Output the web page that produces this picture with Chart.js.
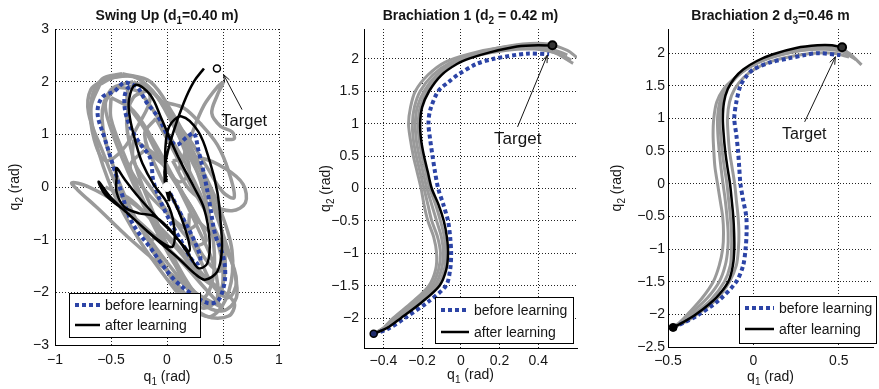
<!DOCTYPE html>
<html>
<head>
<meta charset="utf-8">
<script src="https://cdn.jsdelivr.net/npm/chart.js@4.4.1/dist/chart.umd.min.js"></script>
<style>
  html, body { margin: 0; padding: 0; background: #fff; }
  body { position: relative; width: 879px; height: 389px; overflow: hidden; }
  canvas { position: absolute; top: 0; }
</style>
</head>
<body>
<canvas id="swing" width="290" height="389" style="left:0px"></canvas>
<canvas id="brach1" width="300" height="389" style="left:290px"></canvas>
<canvas id="brach2" width="289" height="389" style="left:590px"></canvas>
<script>
// ---- tick labels ----
const swingXTicks = [-1, -0.5, 0, 0.5, 1];
const swingYTicks = [-3, -2, -1, 0, 1, 2, 3];
const brach1XTicks = [-0.4, -0.2, 0, 0.2, 0.4];
const brach1YTicks = [-2, -1.5, -1, -0.5, 0, 0.5, 1, 1.5, 2];
const brach2XTicks = [-0.5, 0, 0.5];
const brach2YTicks = [-2.5, -2, -1.5, -1, -0.5, 0, 0.5, 1, 1.5, 2];

// ---- Swing up: [q1, q2] (rad) ----
const swingGray1 = [[-0.4,2.15],[-0.15,2.0],[0.05,1.4],[0.25,0.6],[0.45,-0.3],[0.58,-1.2],[0.55,-2.0],[0.4,-2.45],[0.22,-2.3],[0.0,-1.75],[-0.25,-1.0],[-0.48,-0.1],[-0.64,0.9],[-0.68,1.6],[-0.58,2.05],[-0.4,2.15]];
const swingGray2 = [[-0.3,2.0],[-0.1,1.75],[0.08,1.2],[0.28,0.4],[0.45,-0.5],[0.52,-1.4],[0.46,-2.1],[0.32,-2.3],[0.15,-2.0],[-0.05,-1.4],[-0.28,-0.6],[-0.48,0.4],[-0.58,1.3],[-0.5,1.85],[-0.3,2.0]];
const swingGray3 = [[0.5,-2.3],[0.25,-2.0],[-0.05,-1.5],[-0.35,-0.95],[-0.62,-0.4],[-0.8,-0.05],[-0.85,0.08],[-0.72,0.02],[-0.45,-0.3],[-0.15,-0.85],[0.12,-1.4],[0.35,-1.95],[0.5,-2.3]];
const swingGray4 = [[0.05,0.5],[0.3,0.55],[0.52,0.35],[0.68,0.05],[0.7,-0.3],[0.58,-0.45],[0.4,-0.35],[0.2,-0.05],[0.05,0.5]];
const swingGray5 = [[-0.15,1.85],[0.0,1.5],[0.15,0.9],[0.3,0.1],[0.4,-0.8],[0.42,-1.6],[0.33,-2.1],[0.18,-1.9],[0.04,-1.3],[-0.12,-0.5],[-0.28,0.4],[-0.36,1.2],[-0.3,1.7],[-0.15,1.85]];
const swingGray6 = [[0.1,0.3],[0.22,1.0],[0.33,1.55],[0.45,1.9],[0.5,1.98],[0.45,1.75],[0.4,1.4],[0.48,1.15],[0.58,1.05],[0.6,0.92],[0.52,0.9]];
const swingGray7 = [[-0.5,1.7],[-0.3,1.45],[-0.1,0.8],[0.1,0.0],[0.28,-0.8],[0.42,-1.5],[0.45,-2.1],[0.35,-2.25],[0.18,-1.8],[0.0,-1.1],[-0.2,-0.3],[-0.38,0.6],[-0.5,1.3],[-0.5,1.7]];
const swingGray8 = [[-0.2,0.7],[0.0,0.35],[0.15,-0.15],[0.27,-0.65],[0.18,-0.8],[-0.02,-0.45],[-0.22,0.0],[-0.33,0.4],[-0.2,0.7]];
const swingGray9 = [[-0.1,1.3],[0.08,0.6],[0.22,0.0],[0.38,-0.6],[0.5,-1.2],[0.47,-1.6],[0.32,-1.3],[0.12,-0.5],[-0.08,0.3],[-0.2,1.0],[-0.1,1.3]];
const swingGray10 = [[-0.6,1.95],[-0.45,2.1],[-0.25,2.05],[-0.15,1.7],[-0.25,1.2],[-0.4,0.7],[-0.55,0.5],[-0.65,0.9],[-0.68,1.5],[-0.6,1.95]];
const swingGray11 = [[0.0,-1.2],[0.2,-1.5],[0.45,-1.9],[0.6,-2.2],[0.55,-2.45],[0.35,-2.45],[0.15,-2.1],[0.0,-1.6],[-0.15,-1.1],[-0.05,-0.9],[0.0,-1.2]];
const swingGray12 = [[-0.55,0.0],[-0.35,-0.2],[-0.15,-0.6],[0.1,-1.2],[0.3,-1.7],[0.4,-1.85],[0.25,-1.5],[0.0,-0.9],[-0.25,-0.4],[-0.5,-0.05]];
const swingGray13 = [[0.0,1.6],[0.15,1.5],[0.3,1.2],[0.45,0.8],[0.55,0.3],[0.6,-0.2],[0.5,-0.1],[0.35,0.4],[0.2,0.9],[0.05,1.3]];
const swingGray14 = [[-0.35,1.9],[-0.2,1.95],[-0.05,1.6],[0.1,1.0],[0.2,0.3],[0.1,0.1],[-0.05,0.5],[-0.2,1.1],[-0.35,1.6],[-0.35,1.9]];
const swingGray15 = [[-0.55,2.05],[-0.3,2.1],[-0.12,1.8],[0.05,1.2],[0.22,0.5],[0.38,-0.2],[0.5,-0.9],[0.6,-1.6],[0.62,-2.1],[0.5,-2.35],[0.3,-2.2],[0.1,-1.7],[-0.15,-1.0],[-0.4,-0.2],[-0.58,0.7],[-0.7,1.4],[-0.68,1.85],[-0.55,2.05]];
const swingGray16 = [[-0.45,1.9],[-0.25,1.8],[-0.05,1.2],[0.15,0.5],[0.33,-0.3],[0.46,-1.1],[0.5,-1.8],[0.42,-2.2],[0.25,-2.0],[0.05,-1.4],[-0.15,-0.6],[-0.35,0.3],[-0.5,1.1],[-0.55,1.6],[-0.45,1.9]];
const swingGray17 = [[0.2,-0.5],[0.4,-0.9],[0.55,-1.3],[0.62,-1.8],[0.55,-2.1],[0.42,-1.9],[0.3,-1.4],[0.2,-0.9],[0.2,-0.5]];
const swingGray18 = [[-0.3,0.9],[-0.1,0.6],[0.1,0.0],[0.25,-0.5],[0.35,-1.0],[0.25,-1.1],[0.05,-0.6],[-0.15,0.0],[-0.3,0.5],[-0.3,0.9]];
const swingBefore = [[0.0,0.0],[0.12,-0.5],[0.25,-1.05],[0.3,-1.4],[0.25,-1.45],[0.12,-1.0],[-0.02,-0.45],[-0.12,0.1],[-0.15,0.55],[-0.25,0.85],[-0.34,1.2],[-0.38,1.55],[-0.36,1.85],[-0.28,1.92],[-0.18,1.6],[-0.07,1.3],[0.0,1.0],[0.08,0.8],[0.18,0.95],[0.24,1.02],[0.28,0.7],[0.33,0.25],[0.38,-0.3],[0.43,-0.9],[0.5,-1.3],[0.52,-1.65],[0.5,-1.95],[0.45,-2.17],[0.36,-2.2],[0.2,-2.0],[0.06,-1.75],[-0.05,-1.45],[-0.15,-1.15],[-0.26,-0.85],[-0.34,-0.55],[-0.4,-0.15],[-0.48,0.4],[-0.56,0.95],[-0.62,1.4],[-0.58,1.7],[-0.47,1.82],[-0.38,1.98],[-0.28,1.92]];
const swingAfter = [[0.0,0.0],[0.06,-0.25],[0.13,-0.6],[0.19,-1.0],[0.2,-1.22],[0.12,-1.05],[0.0,-0.75],[-0.12,-0.55],[-0.25,-0.5],[-0.38,-0.38],[-0.45,-0.1],[-0.45,0.2],[-0.45,0.36],[-0.38,0.15],[-0.25,-0.2],[-0.08,-0.6],[0.08,-0.95],[0.2,-1.3],[0.28,-1.54],[0.36,-1.45],[0.38,-1.0],[0.33,-0.4],[0.24,0.0],[0.14,0.4],[0.05,0.8],[-0.05,1.3],[-0.15,1.75],[-0.28,1.94],[-0.34,1.65],[-0.33,1.3],[-0.28,0.85],[-0.22,0.45],[-0.12,0.05],[0.0,-0.3],[0.06,-0.7],[0.05,-1.13],[-0.08,-1.0],[-0.3,-0.6],[-0.5,-0.2],[-0.61,0.1],[-0.55,-0.15],[-0.35,-0.5],[-0.12,-0.95],[0.1,-1.35],[0.25,-1.65],[0.34,-1.76],[0.45,-1.6],[0.49,-1.2],[0.48,-0.7],[0.45,-0.1],[0.38,0.5],[0.28,1.05],[0.13,1.34],[0.02,1.15],[-0.015,0.71],[-0.01,0.2],[0.02,-0.25],[-0.02,0.1],[-0.015,0.45],[0.05,1.0],[0.15,1.6],[0.24,2.0],[0.33,2.25]];
const swingStart = [[0, 0]];
const swingTarget = [[0.446, 2.25]];

// ---- Brachiation 1 ----
const b1Gray1 = [[-0.45,-2.24],[-0.4,-2.15],[-0.35,-2.0],[-0.25,-1.75],[-0.165,-1.5],[-0.13,-1.25],[-0.125,-1.0],[-0.14,-0.75],[-0.17,-0.5],[-0.19,-0.25],[-0.205,0],[-0.225,0.25],[-0.245,0.5],[-0.26,0.75],[-0.27,1.0],[-0.26,1.25],[-0.235,1.5],[-0.17,1.75],[-0.08,1.95],[0.05,2.08],[0.2,2.17],[0.35,2.2],[0.47,2.15],[0.55,2.06]];
const b1Gray2 = [[-0.45,-2.24],[-0.39,-2.14],[-0.34,-2.0],[-0.24,-1.75],[-0.15,-1.5],[-0.115,-1.25],[-0.105,-1.0],[-0.12,-0.75],[-0.15,-0.5],[-0.17,-0.25],[-0.19,0],[-0.21,0.25],[-0.23,0.5],[-0.245,0.75],[-0.25,1.0],[-0.24,1.25],[-0.21,1.5],[-0.145,1.75],[-0.06,1.93],[0.07,2.07],[0.22,2.15],[0.37,2.17],[0.48,2.1],[0.58,1.93]];
const b1Gray3 = [[-0.45,-2.24],[-0.385,-2.14],[-0.33,-2.0],[-0.225,-1.75],[-0.135,-1.5],[-0.1,-1.25],[-0.09,-1.0],[-0.1,-0.75],[-0.125,-0.5],[-0.15,-0.25],[-0.175,0],[-0.195,0.25],[-0.215,0.5],[-0.23,0.75],[-0.235,1.0],[-0.225,1.25],[-0.19,1.5],[-0.125,1.75],[-0.045,1.92],[0.08,2.05],[0.23,2.13],[0.38,2.15],[0.5,2.08],[0.57,1.98]];
const b1Gray4 = [[-0.45,-2.24],[-0.38,-2.13],[-0.32,-2.0],[-0.21,-1.75],[-0.12,-1.5],[-0.085,-1.25],[-0.078,-1.0],[-0.085,-0.75],[-0.105,-0.5],[-0.13,-0.25],[-0.16,0],[-0.18,0.25],[-0.2,0.5],[-0.215,0.75],[-0.22,1.0],[-0.21,1.25],[-0.175,1.5],[-0.11,1.77],[-0.03,1.95],[0.05,2.05],[0.18,2.16],[0.32,2.23],[0.45,2.23],[0.55,2.13],[0.6,2.02]];
const b1Before = [[-0.45,-2.24],[-0.38,-2.17],[-0.29,-2.0],[-0.17,-1.75],[-0.077,-1.5],[-0.055,-1.25],[-0.05,-1.0],[-0.055,-0.75],[-0.066,-0.5],[-0.09,-0.25],[-0.117,0.0],[-0.133,0.25],[-0.146,0.5],[-0.158,0.75],[-0.167,1.0],[-0.158,1.21],[-0.117,1.5],[-0.06,1.65],[-0.017,1.75],[0.08,1.92],[0.17,2.0],[0.34,2.08],[0.456,2.07]];
const b1After = [[-0.45,-2.24],[-0.38,-2.15],[-0.31,-2.0],[-0.2,-1.75],[-0.11,-1.5],[-0.075,-1.25],[-0.066,-1.0],[-0.072,-0.75],[-0.088,-0.5],[-0.115,-0.25],[-0.15,0.0],[-0.17,0.25],[-0.19,0.5],[-0.205,0.75],[-0.21,1.0],[-0.2,1.25],[-0.164,1.5],[-0.1,1.75],[-0.02,1.92],[0.05,2.01],[0.15,2.1],[0.29,2.19],[0.4,2.21],[0.47,2.2]];
const b1Start = [[-0.45, -2.24]];
const b1Target = [[0.473, 2.21]];

// ---- Brachiation 2 ----
const b2Gray1 = [[-0.47,-2.2],[-0.43,-2.12],[-0.385,-2.0],[-0.3,-1.75],[-0.235,-1.5],[-0.2,-1.25],[-0.18,-1.0],[-0.175,-0.75],[-0.18,-0.5],[-0.195,-0.25],[-0.21,0],[-0.225,0.25],[-0.232,0.5],[-0.236,0.75],[-0.232,1.0],[-0.215,1.25],[-0.175,1.45],[-0.118,1.6],[-0.05,1.74],[0.03,1.86],[0.12,1.96],[0.25,2.06],[0.38,2.11],[0.48,2.1],[0.56,2.0],[0.633,1.82]];
const b2Gray2 = [[-0.47,-2.2],[-0.42,-2.12],[-0.37,-2.0],[-0.27,-1.75],[-0.2,-1.5],[-0.165,-1.25],[-0.15,-1.0],[-0.148,-0.75],[-0.155,-0.5],[-0.165,-0.25],[-0.178,0],[-0.19,0.25],[-0.2,0.5],[-0.208,0.75],[-0.21,1.0],[-0.197,1.25],[-0.165,1.45],[-0.11,1.62],[-0.04,1.76],[0.04,1.87],[0.14,1.96],[0.28,2.04],[0.42,2.06],[0.52,2.02],[0.6,1.9]];
const b2Gray3 = [[-0.47,-2.2],[-0.41,-2.13],[-0.34,-2.02],[-0.22,-1.78],[-0.14,-1.5],[-0.1,-1.25],[-0.088,-1.0],[-0.085,-0.75],[-0.09,-0.5],[-0.1,-0.25],[-0.11,0],[-0.125,0.25],[-0.14,0.5],[-0.148,0.75],[-0.152,1.0],[-0.14,1.25],[-0.11,1.45],[-0.06,1.62],[0.01,1.76],[0.1,1.87],[0.22,1.95],[0.35,2.0],[0.47,2.0],[0.56,1.94]];
const b2Gray4 = [[-0.47,-2.2],[-0.42,-2.13],[-0.36,-2.02],[-0.25,-1.78],[-0.17,-1.5],[-0.135,-1.25],[-0.128,-1.0],[-0.128,-0.75],[-0.135,-0.5],[-0.145,-0.25],[-0.155,0],[-0.17,0.25],[-0.183,0.5],[-0.192,0.75],[-0.196,1.0],[-0.185,1.25],[-0.155,1.45],[-0.1,1.63],[-0.03,1.78],[0.06,1.9],[0.18,1.99],[0.32,2.06],[0.45,2.08],[0.55,2.02]];
const b2Before = [[-0.47,-2.2],[-0.41,-2.13],[-0.33,-2.02],[-0.2,-1.78],[-0.1,-1.5],[-0.06,-1.25],[-0.046,-1.0],[-0.04,-0.75],[-0.042,-0.5],[-0.06,-0.25],[-0.076,0.0],[-0.083,0.25],[-0.09,0.5],[-0.1,0.75],[-0.112,1.0],[-0.1,1.25],[-0.076,1.5],[-0.04,1.65],[0.0,1.75],[0.1,1.86],[0.205,1.92],[0.3,1.97],[0.376,2.0],[0.509,1.97]];
const b2After = [[-0.47,-2.2],[-0.41,-2.12],[-0.336,-2.0],[-0.22,-1.75],[-0.147,-1.5],[-0.12,-1.25],[-0.112,-1.0],[-0.113,-0.75],[-0.118,-0.5],[-0.127,-0.25],[-0.137,0.0],[-0.152,0.25],[-0.165,0.5],[-0.174,0.75],[-0.179,1.0],[-0.172,1.25],[-0.15,1.45],[-0.11,1.62],[-0.06,1.75],[0.02,1.88],[0.11,1.98],[0.25,2.08],[0.376,2.12],[0.46,2.12],[0.519,2.09]];
const b2Start = [[-0.47, -2.2]];
const b2Target = [[0.519, 2.09]];

const GRAY = '#9a9a9a', BLUE = '#2c44a6', INK = '#151515';
const FONT = 'Arial, "Liberation Sans", Helvetica, sans-serif';
Chart.defaults.font.family = FONT;

const pts = a => a.map(p => ({ x: p[0], y: p[1] }));
const minus = v => (v < 0 ? '\u2212' + Math.abs(v) : String(v));

function grayLine(a, w, t) {
  return { data: pts(a), showLine: true, pointRadius: 0, borderColor: GRAY, borderWidth: w, tension: t, order: 5 };
}
function blueLine(a, t) {
  return { data: pts(a), showLine: true, pointRadius: 0, borderColor: BLUE, borderWidth: 4, borderDash: [4, 3], borderCapStyle: 'butt', tension: t, order: 3 };
}
function blackLine(a, t) {
  return { data: pts(a), showLine: true, pointRadius: 0, borderColor: '#000', borderWidth: 2.5, tension: t, order: 2 };
}
function marker(a, r, fill, stroke, bw) {
  return { data: pts(a), showLine: false, pointRadius: r, pointBackgroundColor: fill, pointBorderColor: stroke, pointBorderWidth: bw, order: 1 };
}

// rich text: parts starting with '_' are subscripts
function richWidth(ctx, parts, size, weight) {
  let w = 0;
  parts.forEach(p => {
    const sub = p[0] === '_';
    ctx.font = weight + ' ' + (sub ? Math.round(size * 0.7) : size) + 'px ' + FONT;
    w += ctx.measureText(sub ? p.slice(1) : p).width;
  });
  return w;
}
function drawRich(ctx, parts, x, y, size, weight) {
  let cx = x - richWidth(ctx, parts, size, weight) / 2;
  ctx.textAlign = 'left';
  ctx.textBaseline = 'alphabetic';
  parts.forEach(p => {
    const sub = p[0] === '_';
    const t = sub ? p.slice(1) : p;
    ctx.font = weight + ' ' + (sub ? Math.round(size * 0.7) : size) + 'px ' + FONT;
    ctx.fillText(t, cx, sub ? y + size * 0.3 : y);
    cx += ctx.measureText(t).width;
  });
}

const decor = {
  id: 'decor',
  afterDatasetsDraw(chart, args, o) {
    const ctx = chart.ctx, a = chart.chartArea, xs = chart.scales.x, ys = chart.scales.y;
    ctx.save();
    ctx.fillStyle = INK;
    drawRich(ctx, o.title, (a.left + a.right) / 2, 20, 14, 'bold');
    drawRich(ctx, ['q', '_1', ' (rad)'], (a.left + a.right) / 2, o.xTitleY, 14, 'normal');
    ctx.save();
    ctx.translate(o.yTitleX, (a.top + a.bottom) / 2);
    ctx.rotate(-Math.PI / 2);
    drawRich(ctx, ['q', '_2', ' (rad)'], 0, 0, 14, 'normal');
    ctx.restore();

    // Target label and arrow
    const t = o.target;
    ctx.font = t.size + 'px ' + FONT;
    ctx.textAlign = 'center';
    ctx.textBaseline = 'alphabetic';
    ctx.fillText('Target', xs.getPixelForValue(t.x), ys.getPixelForValue(t.y));
    const x0 = xs.getPixelForValue(t.tail[0]), y0 = ys.getPixelForValue(t.tail[1]);
    const x1 = xs.getPixelForValue(t.head[0]), y1 = ys.getPixelForValue(t.head[1]);
    const ang = Math.atan2(y1 - y0, x1 - x0);
    ctx.strokeStyle = INK;
    ctx.lineWidth = 1;
    ctx.beginPath();
    ctx.moveTo(x0, y0); ctx.lineTo(x1, y1);
    ctx.moveTo(x1 - 8 * Math.cos(ang - 0.35), y1 - 8 * Math.sin(ang - 0.35));
    ctx.lineTo(x1, y1);
    ctx.lineTo(x1 - 8 * Math.cos(ang + 0.35), y1 - 8 * Math.sin(ang + 0.35));
    ctx.stroke();

    // legend box
    const L = o.legend;
    ctx.fillStyle = '#fff';
    ctx.fillRect(L.x, L.y, L.w, L.h);
    ctx.strokeStyle = '#000';
    ctx.lineWidth = 1;
    ctx.strokeRect(L.x + 0.5, L.y + 0.5, L.w, L.h);
    const rows = [['before learning', BLUE, [4, 3], 4], ['after learning', '#000', [], 2.5]];
    rows.forEach((r, i) => {
      const yy = L.y + L.rowY[i];
      ctx.save();
      ctx.strokeStyle = r[1];
      ctx.lineWidth = r[3];
      ctx.setLineDash(r[2]);
      ctx.beginPath();
      ctx.moveTo(L.x + 6, yy); ctx.lineTo(L.x + 6 + L.sample, yy);
      ctx.stroke();
      ctx.restore();
      ctx.fillStyle = INK;
      ctx.font = '14px ' + FONT;
      ctx.textAlign = 'left';
      ctx.textBaseline = 'middle';
      ctx.fillText(r[0], L.x + L.sample + 11, yy + 1);
    });
    ctx.restore();
  }
};

function axis(min, max, ticks, pad, fit, horizontal) {
  return {
    type: 'linear', min: min, max: max,
    afterBuildTicks: s => { s.ticks = ticks.map(v => ({ value: v })); },
    afterFit: s => { if (horizontal) s.height = fit; else s.width = fit; },
    ticks: { color: INK, font: { size: 14 }, padding: pad, autoSkip: false, maxRotation: 0, callback: v => minus(v) },
    grid: { color: '#222', lineWidth: 1, drawTicks: false },
    border: { display: true, color: '#000', width: 1, dash: [1, 2] }
  };
}

function makeChart(id, c) {
  return new Chart(document.getElementById(id), {
    type: 'scatter',
    data: { datasets: c.datasets },
    options: {
      responsive: false, animation: false, events: [],
      layout: { padding: c.padding },
      scales: {
        x: axis(c.xMin, c.xMax, c.xTicks, c.xPad, c.xFit, true),
        y: axis(c.yMin, c.yMax, c.yTicks, c.yPad, c.yFit, false)
      },
      plugins: { legend: { display: false }, tooltip: { enabled: false }, decor: c.decor }
    },
    plugins: [decor]
  });
}

const swingGrays = [swingGray1, swingGray2, swingGray3, swingGray4, swingGray5, swingGray6, swingGray7,
  swingGray8, swingGray9, swingGray10, swingGray11, swingGray12, swingGray13, swingGray14,
  swingGray15, swingGray16, swingGray17, swingGray18];

makeChart('swing', {
  datasets: swingGrays.map(g => grayLine(g, 3.5, 0.35))
    .concat([blueLine(swingBefore, 0.35), blackLine(swingAfter, 0.35),
      marker(swingStart, 4.5, '#fff', '#eee', 1), marker(swingTarget, 3.5, '#fff', '#000', 1.5)]),
  padding: { left: 0, right: 11, top: 29, bottom: 0 },
  xMin: -1, xMax: 1, xTicks: swingXTicks, xPad: 7, xFit: 44,
  yMin: -3, yMax: 3, yTicks: swingYTicks, yPad: 6, yFit: 55,
  decor: {
    title: ['Swing Up (d', '_1', '=0.40 m)'], xTitleY: 381, yTitleX: 19,
    target: { size: 16.5, x: 0.69, y: 1.165, tail: [0.67, 1.47], head: [0.505, 2.135] },
    legend: { x: 69, y: 293, w: 131, h: 44, rowY: [12, 32], sample: 25 }
  }
});

makeChart('brach1', {
  datasets: [b1Gray1, b1Gray2, b1Gray3, b1Gray4].map(g => grayLine(g, 3, 0.3))
    .concat([blueLine(b1Before, 0.3), blackLine(b1After, 0.3),
      marker(b1Start, 3.5, '#1d2a6a', '#000', 1.5), marker(b1Target, 4, '#333', '#000', 2)]),
  padding: { left: 0, right: 13, top: 29, bottom: 0 },
  xMin: -0.5, xMax: 0.6, xTicks: brach1XTicks, xPad: 5, xFit: 41,
  yMin: -2.46, yMax: 2.46, yTicks: brach1YTicks, yPad: 5, yFit: 74,
  decor: {
    title: ['Brachiation 1 (d', '_2', ' = 0.42 m)'], xTitleY: 379, yTitleX: 40,
    target: { size: 17, x: 0.294, y: 0.684, tail: [0.293, 0.95], head: [0.447, 2.057] },
    legend: { x: 145, y: 297, w: 138, h: 46, rowY: [13, 35], sample: 28 }
  }
});

makeChart('brach2', {
  datasets: [b2Gray1, b2Gray2, b2Gray3, b2Gray4].map(g => grayLine(g, 3, 0.3))
    .concat([blueLine(b2Before, 0.3), blackLine(b2After, 0.3),
      marker(b2Start, 4, '#000', '#000', 1), marker(b2Target, 4, '#333', '#000', 2)]),
  padding: { left: 0, right: 0, top: 29, bottom: 0 },
  xMin: -0.5, xMax: 0.7, xTicks: brach2XTicks, xPad: 6, xFit: 42,
  yMin: -2.5, yMax: 2.37, yTicks: brach2YTicks, yPad: 3, yFit: 78,
  decor: {
    title: ['Brachiation 2 d', '_3', '=0.46 m'], xTitleY: 381, yTitleX: 31,
    target: { size: 16, x: 0.298, y: 0.683, tail: [0.3, 0.948], head: [0.48, 1.945] },
    legend: { x: 149, y: 296, w: 137, h: 47, rowY: [12, 33], sample: 29 }
  }
});
</script>
</body>
</html>
